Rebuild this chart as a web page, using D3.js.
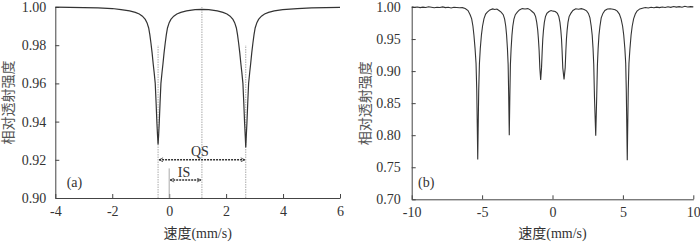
<!DOCTYPE html>
<html>
<head>
<meta charset="utf-8">
<script src="https://cdn.jsdelivr.net/npm/d3@7"></script>
<style>
  body { margin: 0; background: #fff; }
  .axis path, .axis line { stroke: #444; }
</style>
</head>
<body>
<svg id="chart" width="700" height="242"></svg>
<script>
// ---- panel (a): doublet ----
var aVel = [-4.0, -3.5, -3.0, -2.5, -2.0, -1.69, -1.39, -1.19, -1.05, -0.94, -0.84, -0.78, -0.72, -0.68, -0.64, -0.60, -0.56, -0.53, -0.49, -0.46, -0.43, -0.41, -0.39,
  -0.37, -0.35, -0.32, -0.29, -0.25, -0.22, -0.18, -0.14, -0.10, -0.06, 0.00, 0.06, 0.16, 0.27, 0.41, 0.61, 0.91, 1.15,
  1.39, 1.69, 1.89, 2.03, 2.14, 2.24, 2.30, 2.36, 2.40, 2.44, 2.48, 2.52, 2.55, 2.59, 2.62, 2.65, 2.67, 2.69,
  2.71, 2.73, 2.76, 2.79, 2.83, 2.86, 2.90, 2.94, 2.98, 3.02, 3.08, 3.14, 3.24, 3.35, 3.49, 3.69, 3.99, 4.5, 5.0, 5.5, 6.0];
var aInt = [0.9999, 0.9998, 0.9997, 0.9995, 0.9992, 0.9986, 0.9980, 0.9972, 0.9963, 0.9952, 0.9935, 0.9918, 0.9890, 0.9855, 0.9810, 0.9760, 0.9700, 0.9660, 0.9600, 0.9500, 0.9390, 0.9330, 0.9280,
  0.9330, 0.9390, 0.9500, 0.9600, 0.9660, 0.9700, 0.9760, 0.9810, 0.9855, 0.9890, 0.9918, 0.9935, 0.9952, 0.9963, 0.9972, 0.9980, 0.9986, 0.9988,
  0.9986, 0.9980, 0.9972, 0.9963, 0.9952, 0.9935, 0.9918, 0.9890, 0.9855, 0.9810, 0.9760, 0.9700, 0.9660, 0.9600, 0.9500, 0.9390, 0.9330, 0.9265,
  0.9330, 0.9390, 0.9500, 0.9600, 0.9660, 0.9700, 0.9760, 0.9810, 0.9855, 0.9890, 0.9918, 0.9935, 0.9952, 0.9963, 0.9972, 0.9980, 0.9986, 0.9992, 0.9995, 0.9997, 0.9998];
var aXTicks = [-4, -2, 0, 2, 4, 6];
var aYTicks = [0.90, 0.92, 0.94, 0.96, 0.98, 1.00];
var qsPos = [-0.39, 2.69];   // peak positions
var isPos = [0, 1.15];       // zero and centre of the doublet

// ---- panel (b): sextet ----
var bVel = [-10.0, -9.8, -9.6, -9.4, -9.2, -9.0, -8.8, -8.6, -8.4, -8.2, -8.0, -7.8, -7.6, -7.4, -7.2, -7.0, -6.8, -6.6, -6.4, -6.2,
  -6.0, -5.85, -5.74, -5.65, -5.58, -5.50, -5.43, -5.38, -5.34, -5.31, -5.28, -5.24, -5.19, -5.13, -5.05, -4.97, -4.87, -4.75, -4.63, -4.45, -4.25, -4.1, -3.95,
  -3.80, -3.65, -3.50, -3.40, -3.32, -3.26, -3.20, -3.15, -3.11, -3.07, -3.03, -2.99, -2.94, -2.88, -2.82, -2.74, -2.64, -2.50, -2.35, -2.15, -1.95, -1.75,
  -1.58, -1.45, -1.30, -1.20, -1.12, -1.05, -1.00, -0.95, -0.90, -0.84, -0.78, -0.73, -0.69, -0.64, -0.58, -0.50, -0.40, -0.25, -0.10, 0.05, 0.20,
  0.35, 0.45, 0.53, 0.59, 0.64, 0.68, 0.73, 0.82, 0.90, 0.95, 0.99, 1.04, 1.10, 1.18, 1.30, 1.45, 1.65, 1.85, 2.05, 2.25,
  2.42, 2.55, 2.66, 2.75, 2.82, 2.88, 2.93, 2.98, 3.07, 3.14, 3.19, 3.24, 3.30, 3.37, 3.46, 3.58, 3.72, 3.90, 4.10, 4.30,
  4.45, 4.60, 4.75, 4.87, 4.98, 5.06, 5.14, 5.20, 5.24, 5.28, 5.31, 5.34, 5.38, 5.43, 5.50, 5.58, 5.66, 5.76, 5.88, 6.00, 6.20, 6.45,
  6.6, 6.8, 7.0, 7.2, 7.4, 7.6, 7.8, 8.0, 8.2, 8.4, 8.6, 8.8, 9.0, 9.2, 9.4, 9.6, 9.8, 10.0];
var bInt = [1.0005, 0.9995, 1.0000, 0.9990, 0.9998, 0.9992, 1.0003, 0.9995, 0.9988, 0.9997, 0.9993, 1.0002, 0.9990, 0.9996, 0.9985, 0.9995, 0.9992, 0.9988, 0.9990, 0.9975,
  0.9945, 0.988, 0.9815, 0.970, 0.956, 0.935, 0.912, 0.870, 0.810, 0.762, 0.810, 0.870, 0.912, 0.935, 0.956, 0.970, 0.9815, 0.989, 0.992, 0.9955, 0.997, 0.9962, 0.9968,
  0.9945, 0.992, 0.988, 0.981, 0.970, 0.956, 0.935, 0.910, 0.860, 0.800, 0.860, 0.910, 0.935, 0.956, 0.970, 0.981, 0.988, 0.992, 0.9955, 0.9975, 0.9968, 0.9975,
  0.9955, 0.993, 0.990, 0.985, 0.976, 0.964, 0.950, 0.932, 0.905, 0.886, 0.905, 0.932, 0.950, 0.964, 0.976, 0.985, 0.990, 0.993, 0.9945, 0.9935, 0.993,
  0.990, 0.985, 0.976, 0.964, 0.950, 0.932, 0.905, 0.887, 0.905, 0.932, 0.950, 0.964, 0.976, 0.985, 0.990, 0.9945, 0.9972, 0.9965, 0.9975, 0.9962,
  0.994, 0.990, 0.983, 0.970, 0.956, 0.935, 0.910, 0.860, 0.799, 0.860, 0.910, 0.935, 0.956, 0.970, 0.983, 0.990, 0.9945, 0.9968, 0.9972, 0.9965,
  0.9958, 0.9935, 0.989, 0.9815, 0.970, 0.956, 0.935, 0.912, 0.870, 0.810, 0.761, 0.810, 0.870, 0.912, 0.935, 0.956, 0.970, 0.9815, 0.989, 0.9935, 0.997, 0.9985,
  0.9992, 0.9985, 0.9995, 0.9988, 0.9998, 0.9990, 1.0000, 0.9992, 1.0003, 0.9995, 1.0008, 0.9998, 1.0005, 0.9997, 1.0012, 1.0000, 1.0006, 1.0002];
var bXTicks = [-10, -5, 0, 5, 10];
var bYTicks = [0.70, 0.75, 0.80, 0.85, 0.90, 0.95, 1.00];

var xTitle = "速度(mm/s)";
var yTitle = "相对透射强度";

var FONT = "Liberation Serif, Noto Sans CJK SC, serif";

var svg = d3.select("#chart");

// arrow heads (open chevrons)
var defs = svg.append("defs");
defs.append("marker").attr("id", "arrEnd")
    .attr("viewBox", "0 0 10 10").attr("refX", 9).attr("refY", 5)
    .attr("markerWidth", 5).attr("markerHeight", 5).attr("markerUnits", "userSpaceOnUse")
    .attr("orient", "auto")
  .append("path").attr("d", "M1,1 L9,5 L1,9").attr("fill", "none").attr("stroke", "#333").attr("stroke-width", 1.5);
defs.append("marker").attr("id", "arrStart")
    .attr("viewBox", "0 0 10 10").attr("refX", 1).attr("refY", 5)
    .attr("markerWidth", 5).attr("markerHeight", 5).attr("markerUnits", "userSpaceOnUse")
    .attr("orient", "auto")
  .append("path").attr("d", "M9,1 L1,5 L9,9").attr("fill", "none").attr("stroke", "#333").attr("stroke-width", 1.5);

var panel = function (opt) {
  var x = d3.scaleLinear().domain(opt.xDomain).range(opt.xRange);
  var y = d3.scaleLinear().domain(opt.yDomain).range(opt.yRange);
  var g = svg.append("g");

  g.append("g").attr("class", "axis")
    .attr("transform", "translate(0," + opt.yRange[0] + ")")
    .call(d3.axisBottom(x).tickValues(opt.xTicks).tickSizeInner(-4).tickSizeOuter(0).tickPadding(opt.xPad)
      .tickFormat(function (d) { return d < 0 ? "-" + Math.abs(d) : d; }));

  g.append("g").attr("class", "axis")
    .attr("transform", "translate(" + opt.xRange[0] + ",0)")
    .call(d3.axisLeft(y).tickValues(opt.yTicks).tickSizeInner(-4).tickSizeOuter(0).tickPadding(opt.yPad)
      .tickFormat(d3.format(".2f")));

  g.selectAll(".axis").attr("font-family", FONT).attr("font-size", 14);
  g.selectAll(".axis text").attr("fill", "#333");

  g.append("text")
    .attr("x", (opt.xRange[0] + opt.xRange[1]) / 2).attr("y", 238)
    .attr("text-anchor", "middle").attr("font-family", FONT).attr("font-size", 14).attr("fill", "#333")
    .text(xTitle);

  g.append("text")
    .attr("transform", "translate(" + opt.yTitleX + "," + ((opt.yRange[0] + opt.yRange[1]) / 2) + ") rotate(-90)")
    .attr("text-anchor", "middle").attr("font-family", FONT).attr("font-size", 14)
    .attr("fill", "#555")
    .text(yTitle);

  g.append("text")
    .attr("x", x(opt.tag[0])).attr("y", y(opt.tag[1]))
    .attr("font-family", FONT).attr("font-size", 14).attr("fill", "#333").text(opt.tag[2]);

  return { g: g, x: x, y: y };
};

var A = panel({ xDomain: [-4, 6], xRange: [55.3, 340], yDomain: [0.90, 1.00], yRange: [198, 7],
  xTicks: aXTicks, yTicks: aYTicks, xPad: 8, yPad: 9, yTitleX: 13, tag: [-3.6, 0.9055, "(a)"] });

var B = panel({ xDomain: [-10, 10], xRange: [411.7, 693.3], yDomain: [0.70, 1.00], yRange: [199.3, 7],
  xTicks: bXTicks, yTicks: bYTicks, xPad: 8, yPad: 11, yTitleX: 370, tag: [-9.55, 0.7187, "(b)"] });

// guide lines in (a)
var guides = [
  { v: qsPos[0], y0: 0.90, y1: 0.98, dash: "1.5,1" },
  { v: qsPos[1], y0: 0.90, y1: 0.98, dash: "1.5,1" },
  { v: isPos[1], y0: 0.90, y1: 1.00, dash: "1.5,1" },
  { v: isPos[0], y0: 0.90, y1: 0.9155, dash: null }
];
A.g.selectAll(".guide").data(guides).enter().append("line")
  .attr("x1", function (d) { return A.x(d.v); }).attr("x2", function (d) { return A.x(d.v); })
  .attr("y1", function (d) { return A.y(d.y0); }).attr("y2", function (d) { return A.y(d.y1); })
  .attr("stroke", "#aaa").attr("stroke-width", 1)
  .attr("stroke-dasharray", function (d) { return d.dash; });

// curves
var lineA = d3.line().x(function (d) { return A.x(d[0]); }).y(function (d) { return A.y(d[1]); });
A.g.append("path").datum(d3.zip(aVel, aInt)).attr("d", lineA)
  .attr("fill", "none").attr("stroke", "#333").attr("stroke-width", 1.2);

var lineB = d3.line().x(function (d) { return B.x(d[0]); }).y(function (d) { return B.y(d[1]); });
B.g.append("path").datum(d3.zip(bVel, bInt)).attr("d", lineB)
  .attr("fill", "none").attr("stroke", "#333").attr("stroke-width", 1.1);

// QS and IS arrows
var arrows = [
  { a: qsPos[0], b: qsPos[1], at: 0.92, label: "QS", lx: 1.08, ly: 0.9222 },
  { a: isPos[0], b: isPos[1], at: 0.9094, label: "IS", lx: 0.52, ly: 0.911 }
];
A.g.selectAll(".arr").data(arrows).enter().append("line")
  .attr("x1", function (d) { return A.x(d.a) + 1; }).attr("x2", function (d) { return A.x(d.b) - 1; })
  .attr("y1", function (d) { return A.y(d.at); }).attr("y2", function (d) { return A.y(d.at); })
  .attr("stroke", "#333").attr("stroke-width", 1.5).attr("stroke-dasharray", "2,1")
  .attr("marker-start", "url(#arrStart)").attr("marker-end", "url(#arrEnd)");
A.g.selectAll(".lab").data(arrows).enter().append("text")
  .attr("x", function (d) { return A.x(d.lx); }).attr("y", function (d) { return A.y(d.ly); })
  .attr("text-anchor", "middle").attr("font-family", FONT).attr("font-size", 14).attr("fill", "#333")
  .text(function (d) { return d.label; });
</script>
</body>
</html>
